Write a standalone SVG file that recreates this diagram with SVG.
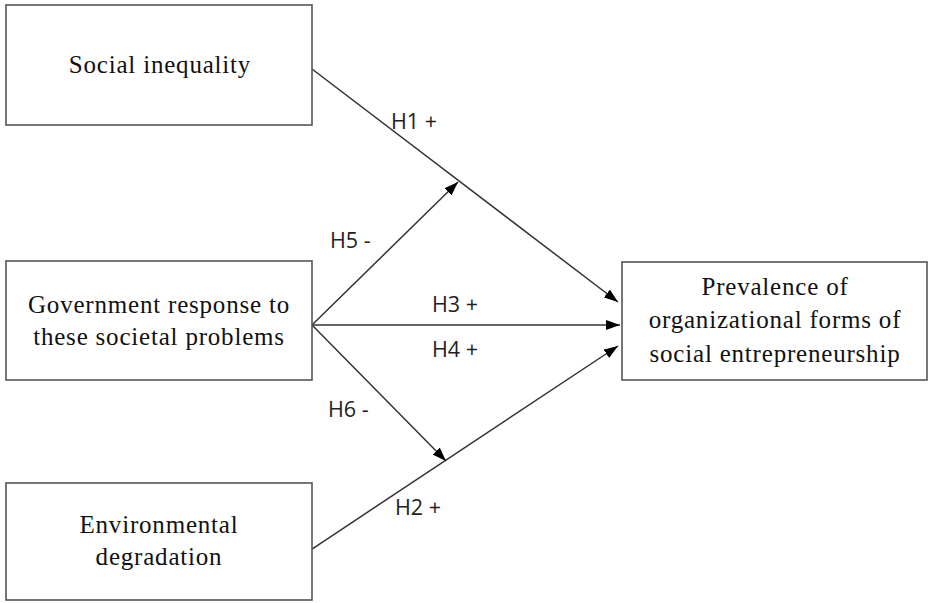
<svg xmlns="http://www.w3.org/2000/svg" width="928" height="603" viewBox="0 0 928 603">
<style>
.box{fill:#fff;stroke:#555;stroke-width:1.6}
.nt{font-family:"Liberation Serif",serif;font-size:25px;fill:#111;text-anchor:middle;letter-spacing:0.8px}
.lb{font-family:"Open Sans","Liberation Sans",sans-serif;font-size:21.5px;fill:#222}
.cn{stroke:#333;stroke-width:1.5;fill:none}
</style>
<defs>
<marker id="ah" viewBox="0 0 14 10" refX="14" refY="5" markerWidth="14" markerHeight="10" markerUnits="userSpaceOnUse" orient="auto">
<path d="M0,0 L14,5 L0,10 Z" fill="#000"/>
</marker>
</defs>
<rect width="928" height="603" fill="#fff"/>
<g id="connectors">
<line class="cn" x1="312" y1="69" x2="618" y2="302" marker-end="url(#ah)"/>
<line class="cn" x1="312" y1="325" x2="620" y2="325" marker-end="url(#ah)"/>
<line class="cn" x1="312" y1="549" x2="618" y2="346" marker-end="url(#ah)"/>
<line class="cn" x1="312" y1="325" x2="458" y2="182" marker-end="url(#ah)"/>
<line class="cn" x1="312" y1="325" x2="446" y2="461" marker-end="url(#ah)"/>
<text class="lb" x="391" y="129">H1 +</text>
<text class="lb" x="330" y="248">H5 -</text>
<text class="lb" x="432" y="312">H3 +</text>
<text class="lb" x="432" y="357">H4 +</text>
<text class="lb" x="328" y="417">H6 -</text>
<text class="lb" x="395" y="515">H2 +</text>
</g>
<g id="social-inequality">
<rect class="box" x="6" y="5" width="306" height="120"/>
<text class="nt" x="160" y="73">Social inequality</text>
</g>
<g id="government-response">
<rect class="box" x="6" y="261" width="306" height="119"/>
<text class="nt" x="159" y="313">Government response to</text>
<text class="nt" x="159" y="345">these societal problems</text>
</g>
<g id="environmental-degradation">
<rect class="box" x="6" y="483" width="306" height="117"/>
<text class="nt" x="159" y="533">Environmental</text>
<text class="nt" x="159" y="565">degradation</text>
</g>
<g id="prevalence">
<rect class="box" x="622" y="262" width="305" height="118"/>
<text class="nt" x="775" y="295">Prevalence of</text>
<text class="nt" x="775" y="328">organizational forms of</text>
<text class="nt" x="775" y="362">social entrepreneurship</text>
</g>
</svg>
